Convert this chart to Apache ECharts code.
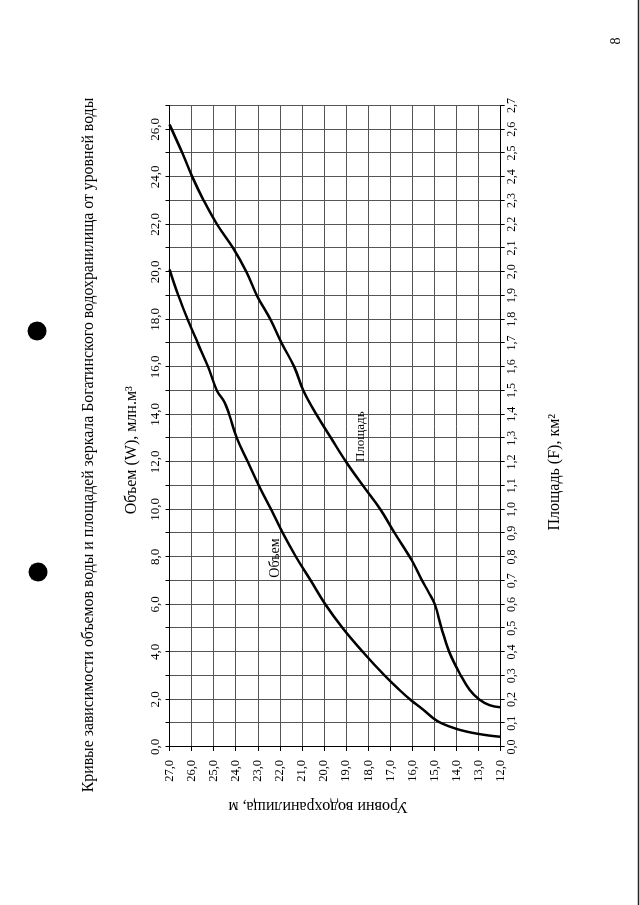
<!DOCTYPE html>
<html><head><meta charset="utf-8">
<script src="https://cdn.jsdelivr.net/npm/echarts/dist/echarts.min.js"></script>
<style>
html,body{margin:0;padding:0;width:640px;height:905px;overflow:hidden;background:#fff;}
#chart{position:absolute;left:0;top:0;width:905px;height:640px;transform-origin:0 0;transform:translateY(905px) rotate(-90deg);}
</style></head><body><div id="chart"></div>
<script>
const titleText = 'Кривые зависимости объемов воды и площадей зеркала Богатинского водохранилища от уровней воды';
const volumeAxisName = 'Объем (W), млн.м³';
const areaAxisName = 'Площадь (F), км²';
const levelAxisName = 'Уровни водохранилища, м';
const volumeSeriesName = 'Объем';
const areaSeriesName = 'Площадь';
const pageNumber = '8';

// Volume curve: water level (m) -> volume (mln m3)
const volumeLevels = [12.0, 12.5, 13.0, 13.5, 14.0, 14.68, 15.05, 15.5, 16.1, 16.56, 17.25, 18.24, 19.15, 19.94, 20.6, 21.27, 21.87, 22.4, 22.95, 23.45, 23.95, 24.3, 24.5, 24.85, 25.25, 25.72, 26.18, 26.6, 27.0];
const volumes      = [0.43, 0.48, 0.55, 0.64, 0.76, 1.0, 1.21, 1.56, 2.0, 2.38, 3.0, 4.0, 5.0, 6.0, 7.0, 8.0, 9.0, 10.0, 11.0, 12.0, 13.0, 14.0, 14.5, 15.0, 16.0, 17.0, 18.0, 19.0, 20.1];

// Area curve: water level (m) -> area (km2)
const areaLevels = [12.0, 12.5, 12.97, 13.4, 13.8, 14.33, 14.68, 14.98, 15.27, 15.6, 16.03, 16.8, 17.45, 18.24, 19.0, 19.68, 20.35, 20.94, 21.35, 21.92, 22.43, 23.04, 23.52, 24.12, 24.85, 25.45, 25.97, 26.42, 27.0];
const areas      = [0.167, 0.176, 0.2, 0.24, 0.3, 0.4, 0.5, 0.6, 0.652, 0.708, 0.786, 0.9, 1.0, 1.1, 1.2, 1.3, 1.4, 1.5, 1.6, 1.7, 1.8, 1.9, 2.0, 2.1, 2.2, 2.3, 2.4, 2.5, 2.62];

// Axis ranges
const levelMin = 12, levelMax = 27, levelStep = 1;
const volumeMin = 0, volumeMax = 27, volumeStep = 1;
const areaMin = 0, areaMax = 2.7, areaStep = 0.1;

// Label anchor points (data coordinates)
const volumeLabelAt = [7.95, 22.2];
const areaLabelAt = [1.306, 18.35];

const FONT = 'Liberation Serif';
const fmt = v => v.toFixed(1).replace('.', ',');

const chart = echarts.init(document.getElementById('chart'));
const gridLine = { show: true, lineStyle: { color: '#555', width: 1 } };
chart.setOption({
  backgroundColor: '#fff',
  animation: false,
  title: {
    text: titleText, left: 455, top: 76, textAlign: 'center',
    textStyle: { fontFamily: FONT, fontSize: 15.8, fontWeight: 'normal', color: '#000' }
  },
  grid: { left: 158, right: 105.5, top: 169.5, bottom: 139.3, containLabel: false, outerBoundsMode: 'none' },
  xAxis: [
    {
      type: 'value', position: 'top', min: volumeMin, max: volumeMax, interval: volumeStep,
      name: volumeAxisName, nameLocation: 'middle', nameGap: 30,
      nameTextStyle: { fontFamily: FONT, fontSize: 16, color: '#000', padding: [0, 48, 0, 0] },
      axisLine: { show: true, lineStyle: { color: '#000', width: 1 } },
      axisTick: { show: true, length: 4, inside: false, lineStyle: { color: '#000' } },
      axisLabel: { margin: 7, fontFamily: FONT, fontSize: 13, color: '#000',
        formatter: v => (Math.round(v) % 2 === 0 ? fmt(v) : '') },
      splitLine: gridLine
    },
    {
      type: 'value', position: 'bottom', min: areaMin, max: areaMax, interval: areaStep,
      name: areaAxisName, nameLocation: 'middle', nameGap: 46,
      nameTextStyle: { fontFamily: FONT, fontSize: 16, color: '#000', padding: [0, 92, 0, 0] },
      axisLine: { show: true, lineStyle: { color: '#000', width: 1 } },
      axisTick: { show: true, length: 4, inside: false, lineStyle: { color: '#000' } },
      axisLabel: { margin: 5, fontFamily: FONT, fontSize: 12, color: '#000', formatter: v => fmt(v) },
      splitLine: { show: false }
    }
  ],
  yAxis: {
    type: 'value', min: levelMin, max: levelMax, interval: levelStep,
    name: levelAxisName, nameLocation: 'middle', nameGap: 51, nameRotate: 90,
    nameTextStyle: { fontFamily: FONT, fontSize: 16, color: '#000', padding: [0, 0, 0, 34] },
    axisLine: { show: true, lineStyle: { color: '#000', width: 1 } },
    axisTick: { show: true, length: 4, inside: false, lineStyle: { color: '#000' } },
    axisLabel: { margin: 13, fontFamily: FONT, fontSize: 12.5, color: '#000', formatter: v => fmt(v) },
    splitLine: gridLine
  },
  series: [
    {
      name: volumeSeriesName, type: 'line', xAxisIndex: 0, yAxisIndex: 0,
      data: volumeLevels.map((l, i) => [volumes[i], l]),
      smooth: 0.4, showSymbol: false, symbol: 'none',
      lineStyle: { color: '#000', width: 2.5 },
      markPoint: {
        symbol: 'circle', symbolSize: 0, silent: true,
        label: { show: true, position: 'inside', formatter: '{b}', fontFamily: FONT, fontSize: 14, color: '#000' },
        data: [{ name: volumeSeriesName, coord: volumeLabelAt }]
      }
    },
    {
      name: areaSeriesName, type: 'line', xAxisIndex: 1, yAxisIndex: 0,
      data: areaLevels.map((l, i) => [areas[i], l]),
      smooth: 0.4, showSymbol: false, symbol: 'none',
      lineStyle: { color: '#000', width: 2.5 },
      markPoint: {
        symbol: 'circle', symbolSize: 0, silent: true,
        label: { show: true, position: 'inside', formatter: '{b}', fontFamily: FONT, fontSize: 13, color: '#000' },
        data: [{ name: areaSeriesName, coord: areaLabelAt }]
      }
    }
  ],
  graphic: [
    { type: 'circle', shape: { cx: 574, cy: 37, r: 9.5 }, style: { fill: '#000' } },
    { type: 'circle', shape: { cx: 333, cy: 38, r: 9.5 }, style: { fill: '#000' } },
    { type: 'text', x: 864, y: 616, style: { text: pageNumber, font: '14px "Liberation Serif"', fill: '#000', align: 'center', verticalAlign: 'middle' } },
    { type: 'line', shape: { x1: 0, y1: 638.5, x2: 905, y2: 638.5 }, style: { stroke: '#222', lineWidth: 1.5 } }
  ]
});
</script></body></html>
